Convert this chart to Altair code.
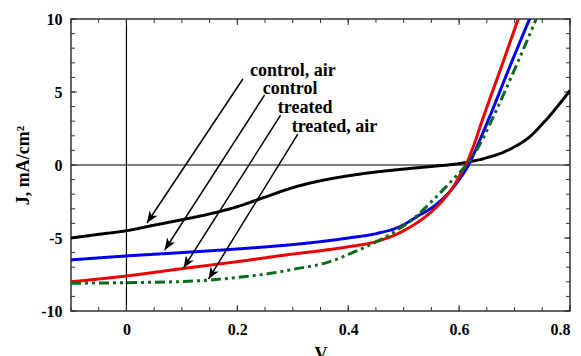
import math
import altair as alt
import pandas as pd

# ---------------- data ----------------
SERIES = ["control, air", "control", "treated", "treated, air"]
COLORS = ["#000000", "#0000ee", "#ee0000", "#0b6a1b"]

V_CONTROL_AIR = [-0.1, -0.05, 0.0, 0.05, 0.1, 0.15, 0.2, 0.25, 0.3, 0.35, 0.4, 0.45,
                 0.5, 0.55, 0.6, 0.65, 0.682, 0.7, 0.724, 0.754, 0.8]
J_CONTROL_AIR = [-5.0, -4.75, -4.5, -4.12, -3.75, -3.35, -2.85, -2.2, -1.55, -1.08, -0.74,
                 -0.48, -0.28, -0.1, 0.1, 0.5, 0.91, 1.25, 1.83, 2.97, 5.1]

V_CONTROL = [-0.1, 0.0, 0.1, 0.2, 0.3, 0.35, 0.4, 0.45, 0.493, 0.529, 0.55, 0.565, 0.58,
             0.6, 0.617, 0.635, 0.655, 0.691, 0.73]
J_CONTROL = [-6.5, -6.23, -6.0, -5.75, -5.45, -5.25, -5.0, -4.7, -4.22, -3.42, -2.95,
             -2.5, -1.95, -1.0, 0.0, 1.5, 3.3, 6.7, 10.27]

V_TREATED = [-0.1, 0.0, 0.1, 0.2, 0.3, 0.35, 0.4, 0.45, 0.5, 0.53, 0.55, 0.57, 0.59,
             0.605, 0.615, 0.625, 0.643, 0.676, 0.709]
J_TREATED = [-8.0, -7.6, -7.1, -6.62, -6.1, -5.87, -5.6, -5.25, -4.5, -3.8, -3.2,
             -2.45, -1.45, -0.45, 0.25, 1.2, 3.2, 6.7, 10.27]

V_TREATED_AIR = [-0.1, 0.0, 0.1, 0.15, 0.2, 0.26, 0.3, 0.367, 0.408, 0.457, 0.493,
                 0.523, 0.553, 0.575, 0.595, 0.613, 0.635, 0.661, 0.703, 0.742]
J_TREATED_AIR = [-8.1, -8.06, -7.98, -7.88, -7.7, -7.42, -7.15, -6.62, -6.0, -5.14,
                 -4.34, -3.5, -2.4, -1.55, -0.75, 0.0, 1.25, 3.25, 6.8, 10.27]

# annotation arrows (label text position, arrow start, arrow tip)
LABEL_X = [0.223, 0.246, 0.273, 0.298]
LABEL_Y = [6.44, 5.21, 3.90, 2.60]
ARROW_X0 = [0.210, 0.249, 0.278, 0.309]
ARROW_Y0 = [5.89, 4.79, 3.42, 2.12]
ARROW_X1 = [0.037, 0.069, 0.103, 0.148]
ARROW_Y1 = [-3.97, -5.82, -7.05, -7.81]

X_LABELS = [0, 0.2, 0.4, 0.6, 0.8]
Y_LABELS = [-10, -5, 0, 5, 10]
X_MINOR = [round(-0.1 + 0.05 * i, 2) for i in range(19)]
Y_MINOR = list(range(-10, 11))

XDOM = [-0.1, 0.8]
YDOM = [-10, 10]
W, H = 499, 292
FONT = "Liberation Serif"
MAJOR_LEN, MINOR_LEN = 6, 4

# ---------------- tables ----------------
rows = []
for name, vs, js in zip(SERIES, [V_CONTROL_AIR, V_CONTROL, V_TREATED, V_TREATED_AIR],
                        [J_CONTROL_AIR, J_CONTROL, J_TREATED, J_TREATED_AIR]):
    for v, j in zip(vs, js):
        rows.append({"series": name, "V": v, "J": j})
curves = pd.DataFrame(rows)

zero_lines = pd.DataFrame({
    "x": [XDOM[0], 0.0], "x2": [XDOM[1], 0.0],
    "y": [0.0, YDOM[0]], "y2": [0.0, YDOM[1]],
})

px_x = W / (XDOM[1] - XDOM[0])
px_y = H / (YDOM[1] - YDOM[0])
angles = []
for x0, y0, x1, y1 in zip(ARROW_X0, ARROW_Y0, ARROW_X1, ARROW_Y1):
    dx = (x1 - x0) * px_x
    dy = -(y1 - y0) * px_y
    angles.append(math.degrees(math.atan2(dx, -dy)) % 360)

arrows = pd.DataFrame({
    "label": SERIES, "x0": ARROW_X0, "y0": ARROW_Y0, "x1": ARROW_X1, "y1": ARROW_Y1,
    "ang": angles, "lx": LABEL_X, "ly": LABEL_Y,
})

xs = alt.Scale(domain=XDOM, nice=False, zero=False)
ys = alt.Scale(domain=YDOM, nice=False, zero=False)

x_label_axis = alt.Axis(orient="bottom", values=X_LABELS, ticks=False, domain=False,
                        grid=False, labelExpr="toString(datum.value)",
                        labelFont=FONT, labelFontWeight="bold", labelFontSize=16,
                        labelColor="black", labelPadding=10,
                        title="V", titleFont=FONT, titleFontWeight="bold",
                        titleFontSize=18, titleColor="black", titlePadding=8)
y_label_axis = alt.Axis(orient="left", values=Y_LABELS, ticks=False, domain=False,
                        grid=False, labelExpr="toString(datum.value)",
                        labelFont=FONT, labelFontWeight="bold", labelFontSize=16,
                        labelColor="black", labelPadding=9,
                        title="J, mA/cm²", titleFont=FONT, titleFontWeight="bold",
                        titleFontSize=18, titleColor="black", titlePadding=8)

# zero lines (carry the labelled axes)
zero_layer = alt.Chart(zero_lines).mark_rule(color="black", strokeWidth=1.2).encode(
    x=alt.X("x:Q", scale=xs, axis=x_label_axis),
    x2="x2:Q",
    y=alt.Y("y:Q", scale=ys, axis=y_label_axis),
    y2="y2:Q",
)

# inside tick marks on all four sides
tick_layers = []
for vals, ln in [(X_MINOR, MINOR_LEN), (X_LABELS, MAJOR_LEN)]:
    d = pd.DataFrame({"t": vals})
    for y_a, y_b in [(H, H - ln), (0, ln)]:
        tick_layers.append(alt.Chart(d).mark_rule(color="#333333", strokeWidth=1).encode(
            x=alt.X("t:Q", scale=xs, axis=None),
            y=alt.value(y_a), y2=alt.value(y_b)))
for vals, ln in [(Y_MINOR, MINOR_LEN), (Y_LABELS, MAJOR_LEN)]:
    d = pd.DataFrame({"t": vals})
    for x_a, x_b in [(0, ln), (W, W - ln)]:
        tick_layers.append(alt.Chart(d).mark_rule(color="#333333", strokeWidth=1).encode(
            y=alt.Y("t:Q", scale=ys, axis=None),
            x=alt.value(x_a), x2=alt.value(x_b)))

# curves
curve_layer = alt.Chart(curves).mark_line(strokeWidth=3, interpolate="monotone",
                                          clip=True, strokeCap="butt").encode(
    x=alt.X("V:Q", scale=xs, axis=None),
    y=alt.Y("J:Q", scale=ys, axis=None),
    color=alt.Color("series:N", scale=alt.Scale(domain=SERIES, range=COLORS), legend=None),
    strokeDash=alt.StrokeDash("series:N", scale=alt.Scale(
        domain=SERIES, range=[[1, 0], [1, 0], [1, 0], [10, 4, 3, 4, 3, 4]]), legend=None),
    detail="series:N",
)

# arrow shafts
shaft_layer = alt.Chart(arrows).mark_rule(color="black", strokeWidth=1.5).encode(
    x=alt.X("x0:Q", scale=xs, axis=None),
    x2="x1:Q",
    y=alt.Y("y0:Q", scale=ys, axis=None),
    y2="y1:Q",
)

# arrow heads
head_layer = alt.Chart(arrows).mark_point(
    shape="M0,0 L0.4,1 L0,0.72 L-0.4,1 Z", filled=True, color="black",
    size=560, opacity=1, strokeWidth=0).encode(
    x=alt.X("x1:Q", scale=xs, axis=None),
    y=alt.Y("y1:Q", scale=ys, axis=None),
    angle=alt.Angle("ang:Q", scale=None),
)

# labels
text_layer = alt.Chart(arrows).mark_text(
    align="left", baseline="middle", font=FONT, fontWeight="bold", fontSize=18,
    color="black").encode(
    x=alt.X("lx:Q", scale=xs, axis=None),
    y=alt.Y("ly:Q", scale=ys, axis=None),
    text="label:N",
)

chart = alt.layer(zero_layer, *tick_layers, curve_layer, shaft_layer, head_layer,
                  text_layer).resolve_scale(
    x="shared", y="shared"
).resolve_axis(
    x="independent", y="independent"
).properties(
    width=W, height=H,
    autosize=alt.AutoSizeParams(type="none"),
    padding={"left": 63, "top": 11, "right": 2, "bottom": 45},
    background="white",
).configure_view(stroke="#333333", strokeWidth=1.5)

chart.save("out.html", embed_options={"renderer": "svg", "actions": False})
